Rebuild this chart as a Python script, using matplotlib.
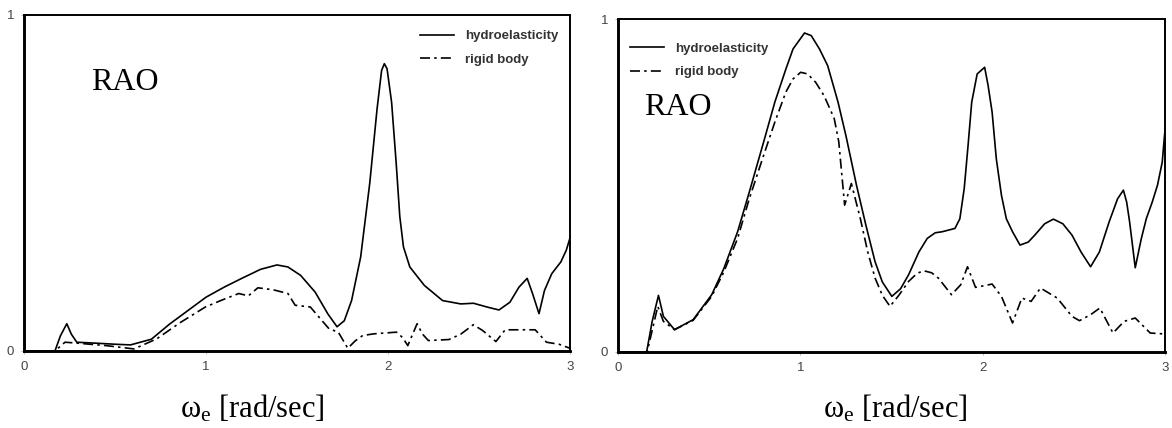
import matplotlib
matplotlib.use("Agg")
import matplotlib.pyplot as plt

# ---- left panel: RAO ----
w_left_hydro = [0.0, 0.17, 0.20, 0.235, 0.26, 0.29, 0.40, 0.50, 0.585, 0.70, 0.80, 0.90, 1.0,
                1.10, 1.20, 1.30, 1.39, 1.45, 1.52, 1.60, 1.67, 1.72, 1.76, 1.80, 1.85, 1.90,
                1.94, 1.965, 1.98, 1.995, 2.02, 2.045, 2.065, 2.085, 2.12, 2.20, 2.30, 2.40,
                2.47, 2.55, 2.61, 2.67, 2.72, 2.765, 2.795, 2.83, 2.86, 2.90, 2.95, 2.98, 3.0]
rao_left_hydro = [0.0, 0.0, 0.045, 0.081, 0.05, 0.026, 0.023, 0.02, 0.018, 0.035, 0.08, 0.12, 0.16,
                  0.19, 0.217, 0.243, 0.256, 0.25, 0.225, 0.175, 0.11, 0.072, 0.09, 0.15, 0.28, 0.50,
                  0.72, 0.835, 0.855, 0.84, 0.74, 0.56, 0.40, 0.31, 0.25, 0.195, 0.15, 0.14,
                  0.142, 0.13, 0.122, 0.145, 0.19, 0.216, 0.17, 0.111, 0.18, 0.23, 0.265, 0.30, 0.336]

w_left_rigid = [0.0, 0.17, 0.225, 0.276, 0.45, 0.605, 0.729, 0.86, 0.997, 1.09, 1.18, 1.233, 1.285,
                1.37, 1.45, 1.49, 1.573, 1.676, 1.727, 1.779, 1.82, 1.861, 1.923, 2.047, 2.08,
                2.109, 2.16, 2.19, 2.222, 2.335, 2.40, 2.469, 2.52, 2.593, 2.644, 2.70, 2.809,
                2.871, 2.94, 3.0]
rao_left_rigid = [0.0, 0.0, 0.026, 0.024, 0.016, 0.006, 0.036, 0.085, 0.131, 0.152, 0.171, 0.164, 0.188,
                  0.182, 0.171, 0.136, 0.131, 0.066, 0.056, 0.008, 0.03, 0.046, 0.051, 0.056, 0.04,
                  0.016, 0.081, 0.05, 0.031, 0.034, 0.05, 0.078, 0.061, 0.028, 0.063, 0.063, 0.063,
                  0.026, 0.02, 0.008]

# ---- right panel ----
w_right_hydro = [0.0, 0.157, 0.1875, 0.222, 0.249, 0.31, 0.412, 0.514, 0.58, 0.656, 0.72, 0.799,
                 0.86, 0.921, 0.96, 1.023, 1.06, 1.105, 1.15, 1.207, 1.25, 1.308, 1.36, 1.41,
                 1.45, 1.502, 1.55, 1.594, 1.65, 1.696, 1.74, 1.777, 1.848, 1.875, 1.899, 1.92,
                 1.94, 1.97, 2.011, 2.03, 2.052, 2.075, 2.103, 2.13, 2.164, 2.205, 2.25, 2.286,
                 2.34, 2.388, 2.44, 2.49, 2.54, 2.592, 2.64, 2.694, 2.74, 2.772, 2.79, 2.806,
                 2.837, 2.87, 2.898, 2.93, 2.959, 2.985, 3.0]
rao_right_hydro = [0.0, 0.0, 0.092, 0.17, 0.107, 0.067, 0.097, 0.172, 0.25, 0.361, 0.48, 0.631,
                   0.75, 0.85, 0.91, 0.958, 0.95, 0.91, 0.86, 0.75, 0.65, 0.501, 0.38, 0.271,
                   0.21, 0.167, 0.19, 0.232, 0.30, 0.341, 0.358, 0.361, 0.371, 0.40, 0.491, 0.62,
                   0.75, 0.835, 0.855, 0.80, 0.72, 0.58, 0.471, 0.40, 0.361, 0.321, 0.33, 0.351,
                   0.385, 0.399, 0.385, 0.351, 0.30, 0.256, 0.30, 0.391, 0.46, 0.486, 0.45, 0.391,
                   0.253, 0.34, 0.401, 0.45, 0.501, 0.57, 0.666]

w_right_rigid = [0.0, 0.16, 0.218, 0.249, 0.31, 0.412, 0.514, 0.58, 0.656, 0.72, 0.799, 0.86,
                 0.921, 0.96, 1.002, 1.04, 1.084, 1.13, 1.186, 1.211, 1.243, 1.28, 1.329, 1.37,
                 1.41, 1.45, 1.492, 1.54, 1.594, 1.64, 1.676, 1.72, 1.757, 1.829, 1.88, 1.917,
                 1.961, 2.052, 2.103, 2.164, 2.215, 2.266, 2.317, 2.409, 2.49, 2.531, 2.592,
                 2.643, 2.715, 2.776, 2.837, 2.919, 3.0]
rao_right_rigid = [0.0, 0.0, 0.137, 0.092, 0.067, 0.095, 0.167, 0.24, 0.341, 0.46, 0.591, 0.69,
                   0.781, 0.82, 0.84, 0.835, 0.81, 0.77, 0.701, 0.631, 0.441, 0.506, 0.401, 0.30,
                   0.222, 0.17, 0.137, 0.17, 0.212, 0.236, 0.244, 0.238, 0.222, 0.172, 0.202,
                   0.256, 0.194, 0.204, 0.167, 0.087, 0.162, 0.152, 0.192, 0.162, 0.107, 0.094,
                   0.112, 0.132, 0.057, 0.092, 0.102, 0.057, 0.054]

x_ticks = [0, 1, 2, 3]
y_ticks = [0, 1]
legend_labels = ["hydroelasticity", "rigid body"]
dashdot = (0, (6, 2.5, 1.5, 2.5))

fig = plt.figure(figsize=(11.72, 4.28), dpi=100)
ax_l = fig.add_axes([0.0205, 0.180, 0.4658, 0.785])
ax_r = fig.add_axes([0.5273, 0.1776, 0.4667, 0.778])


def style_axes(ax):
    ax.set_xlim(0, 3)
    ax.set_ylim(0, 1)
    ax.set_xticks(x_ticks)
    ax.set_yticks(y_ticks)
    ax.tick_params(axis="both", labelsize=9.5, labelcolor="#444444", color="#aaaaaa",
                   length=2, width=0.6, pad=5)
    for lab in ax.get_xticklabels() + ax.get_yticklabels():
        lab.set_fontfamily("Liberation Sans")
    for side in ["left", "bottom"]:
        ax.spines[side].set_linewidth(2.1)
    for side in ["top", "right"]:
        ax.spines[side].set_linewidth(1.4)


for ax, wh, rh, wr, rr in [(ax_l, w_left_hydro, rao_left_hydro, w_left_rigid, rao_left_rigid),
                           (ax_r, w_right_hydro, rao_right_hydro, w_right_rigid, rao_right_rigid)]:
    ax.plot(wh, rh, color="black", lw=1.2, label=legend_labels[0], solid_joinstyle="round")
    ax.plot(wr, rr, color="black", lw=1.2, linestyle=dashdot, label=legend_labels[1])
    style_axes(ax)

leg_kw = dict(frameon=False, handlelength=2.6, handletextpad=0.8, labelspacing=0.85,
              prop={"family": "Liberation Sans", "weight": "bold", "size": 9.5})
leg = ax_l.legend(loc="upper right", bbox_to_anchor=(1.0, 0.99), **leg_kw)
for t in leg.get_texts():
    t.set_color("#333333")
leg = ax_r.legend(loc="upper left", bbox_to_anchor=(0.0, 0.965), **leg_kw)
for t in leg.get_texts():
    t.set_color("#333333")

ax_l.text(0.123, 0.80, "RAO", transform=ax_l.transAxes, fontsize=23,
          family="Liberation Serif", va="center", ha="left")
ax_r.text(0.048, 0.735, "RAO", transform=ax_r.transAxes, fontsize=23,
          family="Liberation Serif", va="center", ha="left")

xlabel = r"$\mathregular{\omega_e}$ [rad/sec]"
fig.text(252 / 1172, 0.044, xlabel, fontsize=22, family="Liberation Serif",
         ha="center", va="center")
fig.text(895 / 1172, 0.044, xlabel, fontsize=22, family="Liberation Serif",
         ha="center", va="center")

fig.savefig("out.png", dpi=100)
